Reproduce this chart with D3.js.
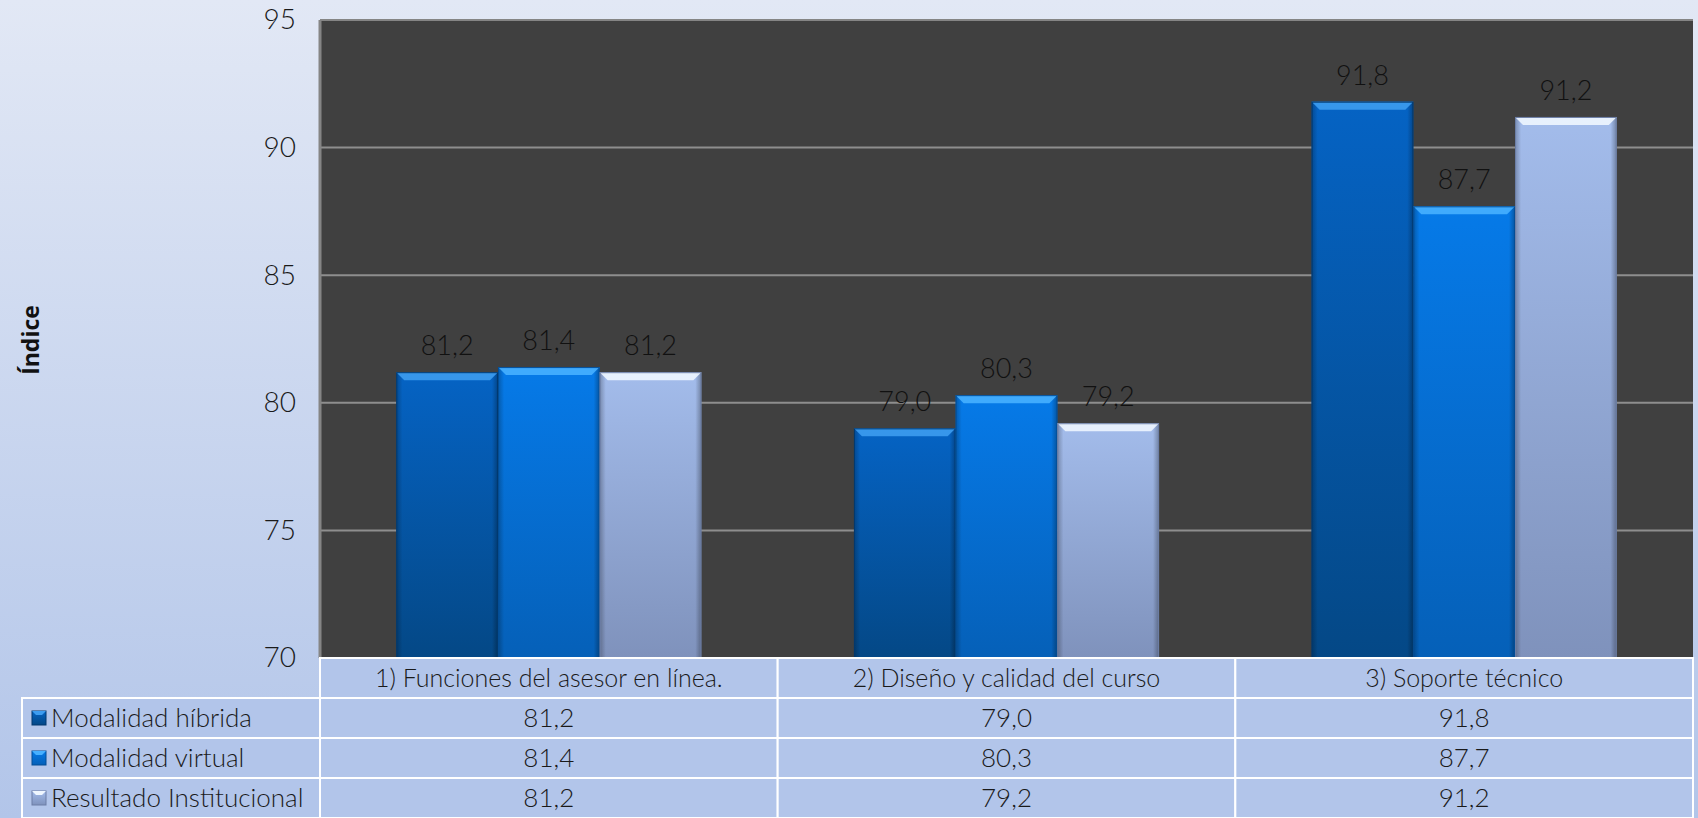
<!DOCTYPE html>
<html>
<head>
<meta charset="utf-8">
<script src="https://cdn.jsdelivr.net/npm/d3@7/dist/d3.min.js"></script>
<style>
  html, body { margin: 0; padding: 0; }
  body { width: 1698px; height: 818px; overflow: hidden; }
  svg text { font-family: "Lato", "Roboto", sans-serif; font-weight: 300; }
</style>
</head>
<body>
<svg id="chart" width="1698" height="818"></svg>
<script>
const categories = ["1) Funciones del asesor en línea.", "2) Diseño y calidad del curso", "3) Soporte técnico"];
const seriesNames = ["Modalidad híbrida", "Modalidad virtual", "Resultado Institucional"];
const hibrida = [81.2, 79.0, 91.8];
const virtual = [81.4, 80.3, 87.7];
const institucional = [81.2, 79.2, 91.2];
const yTicks = [70, 75, 80, 85, 90, 95];
const yTitle = "Índice";

const seriesValues = [hibrida, virtual, institucional];
const W = 1698, H = 818;
const plot = { left: 320, top: 20, right: 1693, bottom: 658 };
const rowH = 40;
const tableLeft = 22;

const fmt = v => d3.format(".1f")(v).replace(".", ",");

const svg = d3.select("#chart");
const defs = svg.append("defs");

// page background
const bg = defs.append("linearGradient").attr("id", "pagebg").attr("x1", 0).attr("y1", 0).attr("x2", 0).attr("y2", 1);
bg.append("stop").attr("offset", "0%").attr("stop-color", "#e2e8f5");
bg.append("stop").attr("offset", "100%").attr("stop-color", "#b2c5e9");
svg.append("rect").attr("width", W).attr("height", H).attr("fill", "url(#pagebg)");

// bar colour definitions (styles)
const barStyles = [
  { top: "#0563c4", bottom: "#044886", bevel: "#3d9cf0", edge: "#03396e" },
  { top: "#067ae8", bottom: "#0560b8", bevel: "#47b0ff", edge: "#044e96" },
  { top: "#a3bceb", bottom: "#7f92bc", bevel: "#eef6ff", edge: "#6c7ea6" }
];
barStyles.forEach((s, i) => {
  const g = defs.append("linearGradient").attr("id", "bar" + i).attr("x1", 0).attr("y1", 0).attr("x2", 0).attr("y2", 1);
  g.append("stop").attr("offset", "0%").attr("stop-color", s.top);
  g.append("stop").attr("offset", "100%").attr("stop-color", s.bottom);
  const h = defs.append("linearGradient").attr("id", "side" + i).attr("x1", 0).attr("y1", 0).attr("x2", 1).attr("y2", 0);
  h.append("stop").attr("offset", "0%").attr("stop-color", "#000").attr("stop-opacity", 0.25);
  h.append("stop").attr("offset", "6%").attr("stop-color", "#000").attr("stop-opacity", 0);
  h.append("stop").attr("offset", "94%").attr("stop-color", "#000").attr("stop-opacity", 0);
  h.append("stop").attr("offset", "100%").attr("stop-color", "#000").attr("stop-opacity", 0.3);
});

// scales
const x0 = d3.scaleBand().domain(categories).range([plot.left, plot.right]).paddingInner(0).paddingOuter(0);
const gapFrac = 1.5 / (3 + 1.5);
const x1 = d3.scaleBand().domain(seriesNames)
  .range([x0.bandwidth() * gapFrac / 2, x0.bandwidth() * (1 - gapFrac / 2)]).padding(0);
const y = d3.scaleLinear().domain([70, 95]).range([plot.bottom, plot.top]);

// plot background
svg.append("rect").attr("x", plot.left).attr("y", plot.top)
  .attr("width", plot.right - plot.left).attr("height", plot.bottom - plot.top)
  .attr("fill", "#404040");

// gridlines
svg.append("g").selectAll("line").data(yTicks.filter(t => t > 70 && t < 95)).join("line")
  .attr("x1", plot.left).attr("x2", plot.right)
  .attr("y1", d => y(d)).attr("y2", d => y(d))
  .attr("stroke", "#8e8e8e").attr("stroke-width", 2);

// top & left border
svg.append("line").attr("x1", plot.left).attr("x2", plot.right).attr("y1", plot.top).attr("y2", plot.top)
  .attr("stroke", "#858585").attr("stroke-width", 2);
svg.append("line").attr("x1", plot.left).attr("x2", plot.left).attr("y1", plot.top).attr("y2", plot.bottom)
  .attr("stroke", "#858585").attr("stroke-width", 3);

// y axis
const yAxis = d3.axisLeft(y).tickValues(yTicks).tickSize(0).tickPadding(24);
const ya = svg.append("g").attr("transform", `translate(${plot.left},0)`).call(yAxis);
ya.select(".domain").remove();
ya.selectAll("text").attr("font-size", 28).attr("fill", "#1a1a1a")
  .style("font-family", '"Lato", "Roboto", sans-serif').style("font-weight", 300);

// y title
svg.append("text").attr("transform", `translate(39,340) rotate(-90)`)
  .attr("text-anchor", "middle").attr("font-size", 23)
  .style("font-family", '"Open Sans", "DejaVu Sans", sans-serif').style("font-weight", 700)
  .attr("fill", "#111").text(yTitle);

// bars
const barData = [];
categories.forEach((c, ci) => {
  seriesNames.forEach((s, si) => {
    barData.push({ cat: c, ser: s, si: si, value: seriesValues[si][ci] });
  });
});

const bars = svg.append("g").selectAll("g").data(barData).join("g")
  .attr("transform", d => `translate(${x0(d.cat) + x1(d.ser)},0)`);
const bw = x1.bandwidth();
const bev = 8;

bars.append("rect")
  .attr("x", 0).attr("y", d => y(d.value))
  .attr("width", bw).attr("height", d => y(70) - y(d.value))
  .attr("fill", d => `url(#bar${d.si})`);
bars.append("rect")
  .attr("x", 0).attr("y", d => y(d.value))
  .attr("width", bw).attr("height", d => y(70) - y(d.value))
  .attr("fill", d => `url(#side${d.si})`);
bars.append("path")
  .attr("d", d => {
    const t = y(d.value);
    return `M0,${t} L${bw},${t} L${bw - bev},${t + bev} L${bev},${t + bev} Z`;
  })
  .attr("fill", d => barStyles[d.si].bevel).attr("opacity", 0.9);
bars.append("rect")
  .attr("x", 0.5).attr("y", d => y(d.value) + 0.5)
  .attr("width", bw - 1).attr("height", d => y(70) - y(d.value) - 1)
  .attr("fill", "none").attr("stroke", d => barStyles[d.si].edge).attr("stroke-width", 1);

// data labels
bars.append("text")
  .attr("x", bw / 2).attr("y", d => y(d.value) - 17)
  .attr("text-anchor", "middle").attr("font-size", 27).attr("fill", "#111")
  .text(d => fmt(d.value));

// data table
const table = svg.append("g");
const cellFill = "#b2c5ea";
// header row
categories.forEach(c => {
  table.append("rect").attr("x", x0(c)).attr("y", plot.bottom)
    .attr("width", x0.bandwidth()).attr("height", rowH)
    .attr("fill", cellFill).attr("stroke", "#ffffff").attr("stroke-width", 2);
  table.append("text").attr("x", x0(c) + x0.bandwidth() / 2).attr("y", plot.bottom + rowH / 2)
    .attr("dy", "0.36em").attr("text-anchor", "middle").attr("font-size", 25).attr("fill", "#1a1a1a")
    .text(c);
});
seriesNames.forEach((s, si) => {
  const ry = plot.bottom + rowH * (si + 1);
  table.append("rect").attr("x", tableLeft).attr("y", ry)
    .attr("width", plot.left - tableLeft).attr("height", rowH)
    .attr("fill", cellFill).attr("stroke", "#ffffff").attr("stroke-width", 2);
  // legend key
  const k = table.append("g").attr("transform", `translate(${tableLeft + 10},${ry + rowH / 2 - 7})`);
  k.append("rect").attr("width", 14).attr("height", 14).attr("fill", `url(#bar${si})`)
    .attr("stroke", barStyles[si].edge).attr("stroke-width", 1);
  k.append("path").attr("d", "M0,0 L14,0 L10,4 L4,4 Z").attr("fill", barStyles[si].bevel);
  table.append("text").attr("x", tableLeft + 29).attr("y", ry + rowH / 2)
    .attr("dy", "0.36em").attr("font-size", 26).attr("fill", "#1a1a1a").text(s);
  categories.forEach((c, ci) => {
    table.append("rect").attr("x", x0(c)).attr("y", ry)
      .attr("width", x0.bandwidth()).attr("height", rowH)
      .attr("fill", cellFill).attr("stroke", "#ffffff").attr("stroke-width", 2);
    table.append("text").attr("x", x0(c) + x0.bandwidth() / 2).attr("y", ry + rowH / 2)
      .attr("dy", "0.36em").attr("text-anchor", "middle").attr("font-size", 26).attr("fill", "#1a1a1a")
      .text(fmt(seriesValues[si][ci]));
  });
});
</script>
</body>
</html>
